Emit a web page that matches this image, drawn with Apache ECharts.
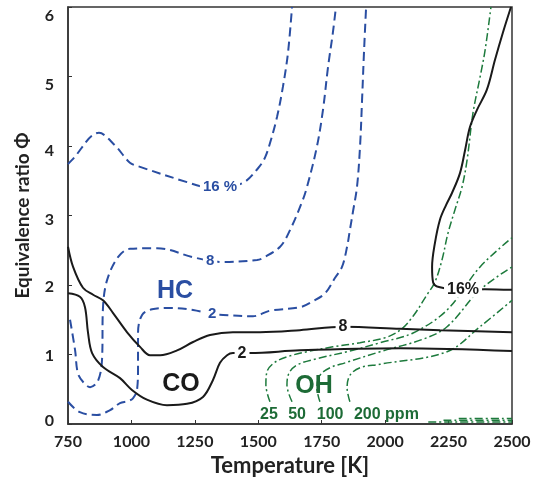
<!DOCTYPE html>
<html>
<head>
<meta charset="utf-8">
<script src="https://cdn.jsdelivr.net/npm/echarts@6/dist/echarts.min.js"></script>
<style>
  html, body { margin: 0; padding: 0; background: #fff; }
  #chart { width: 541px; height: 484px; }
</style>
</head>
<body>
<div id="chart"></div>
<script>
// Emission contour lines in the temperature / equivalence-ratio plane.
// Each contour is a list of [temperature K, equivalence ratio].

const xTicks = [750, 1000, 1250, 1500, 1750, 2000, 2250, 2500];
const yTicks = [0, 1, 2, 3, 4, 5, 6];

// HC contours (blue, dashed)
const hc16 = [[750,3.74],[766,3.80],[872,4.19],[935,4.01],[994,3.76],[1034,3.70],[1219,3.48],[1290,3.41],[1349,3.40],[1440,3.47],[1499,3.68],[1526,3.83],[1546,4.04],[1574,4.42],[1597,4.85],[1617,5.34],[1633,6.0]];
const hc8 = [[758,1.50],[778,1.06],[789,0.73],[813,0.59],[837,0.53],[868,0.62],[884,0.92],[888,1.68],[904,2.07],[947,2.40],[994,2.52],[1101,2.53],[1243,2.40],[1310,2.35],[1361,2.33],[1495,2.36],[1519,2.39],[1586,2.55],[1625,2.79],[1672,3.19],[1692,3.41],[1731,3.99],[1755,4.52],[1775,5.14],[1794,5.63],[1806,6.0]];
const hc2 = [[750,0.32],[797,0.17],[864,0.13],[916,0.20],[955,0.30],[986,0.33],[1006,0.37],[1022,0.49],[1026,0.82],[1026,1.31],[1042,1.57],[1081,1.65],[1152,1.67],[1243,1.64],[1318,1.58],[1361,1.57],[1479,1.55],[1546,1.63],[1664,1.68],[1712,1.76],[1763,1.88],[1802,2.10],[1830,2.26],[1850,2.55],[1861,2.79],[1873,3.05],[1889,3.41],[1901,3.99],[1909,4.66],[1917,5.38],[1925,6.0]];

// CO contours (black, solid)
const co16 = [[2500,1.93],[2393,1.94],[2307,1.93],[2212,1.97],[2189,2.04],[2185,2.26],[2196,2.60],[2216,2.94],[2240,3.15],[2263,3.32],[2295,3.61],[2315,3.94],[2334,4.27],[2362,4.52],[2401,4.81],[2433,5.24],[2464,5.63],[2496,6.0]];
const co8 = [[750,2.55],[770,2.26],[809,1.96],[849,1.86],[888,1.78],[927,1.60],[983,1.32],[1034,1.11],[1073,0.99],[1113,0.99],[1180,1.06],[1243,1.18],[1310,1.28],[1400,1.32],[1507,1.32],[1664,1.35],[1834,1.40],[2059,1.37],[2216,1.35],[2500,1.32]];
const co2 = [[750,1.88],[797,1.83],[817,1.68],[829,1.31],[845,1.02],[888,0.82],[955,0.66],[1002,0.49],[1061,0.35],[1140,0.27],[1219,0.29],[1282,0.39],[1321,0.63],[1349,0.88],[1377,0.99],[1400,1.02],[1436,1.02],[1467,1.02],[1664,1.06],[2059,1.09],[2500,1.05]];

// OH contours (green, dash-dot)
const oh25 = [[1546,0.32],[1530,0.56],[1534,0.75],[1566,0.89],[1625,0.98],[1692,1.04],[1794,1.11],[1901,1.17],[1999,1.24],[2059,1.35],[2110,1.55],[2165,1.86],[2196,2.04],[2224,2.36],[2248,2.75],[2275,3.08],[2303,3.41],[2323,3.80],[2346,4.47],[2374,4.99],[2394,5.38],[2417,6.0]];
const oh50 = [[1633,0.32],[1613,0.56],[1621,0.73],[1653,0.85],[1731,0.94],[1861,1.05],[1980,1.17],[2110,1.31],[2244,1.64],[2374,2.26],[2500,2.68]];
const oh100 = [[1743,0.32],[1731,0.52],[1743,0.70],[1783,0.81],[1842,0.88],[1980,1.04],[2149,1.22],[2244,1.40],[2374,1.93],[2500,2.26]];
const oh200 = [[1861,0.32],[1850,0.52],[1861,0.70],[1901,0.81],[1980,0.86],[2244,1.04],[2374,1.40],[2500,1.78]];
const ohLow1 = [[2170,0.03],[2500,0.03]];
const ohLow2 = [[2230,0.055],[2500,0.055]];
const ohLow3 = [[2290,0.08],[2500,0.08]];

// Text placed on the plot: [temperature, phi, text]
const hcLabels = [[1349,3.41,'16 %'],[1310,2.35,'8'],[1318,1.58,'2']];
const coLabels = [[1834,1.40,'8'],[1436,1.02,'2'],[2307,1.93,'16%']];
const groupLabels = [[1172,1.91,'HC'],[1195,0.58,'CO'],[1720,0.55,'OH']];
const ppmLabels = [[1542,0.14,'25'],[1653,0.14,'50'],[1783,0.14,'100'],[2005,0.14,'200 ppm']];

const BLUE = '#2a4ea2';
const BLACK = '#1a1a1a';
const GREEN = '#1d7a3c';
const GREEN_TXT = '#1d6b36';
const groupColors = [BLUE, BLACK, GREEN_TXT];

// vertical nudge (px) of the y tick labels
const yLabelShift = { 0: -3, 1: 1, 2: 2, 3: 4, 4: 5, 5: 8, 6: 9 };

function contour(data, color, type, width) {
  return {
    type: 'line', data: data, showSymbol: false, smooth: 0.35,
    lineStyle: { color: color, type: type, width: width },
    silent: true, z: 2
  };
}

function textSeries(data, colors, size, bg) {
  return {
    type: 'scatter', symbolSize: 0, silent: true, z: 5,
    itemStyle: { opacity: 1 },
    data: data.map((d, i) => ({
      value: d,
      label: { color: Array.isArray(colors) ? colors[i] : colors }
    })),
    label: {
      show: true, position: 'inside',
      formatter: p => p.value[2],
      fontSize: size, fontWeight: 'bold',
      fontFamily: '"Liberation Sans", Arial, sans-serif',
      backgroundColor: bg ? '#ffffff' : 'transparent',
      padding: bg ? [0, 3] : 0
    }
  };
}

const rich = {};
yTicks.forEach(v => {
  const s = yLabelShift[v];
  rich['y' + v] = { padding: s >= 0 ? [2 * s, 0, 0, 0] : [0, 0, -2 * s, 0] };
});

const chart = echarts.init(document.getElementById('chart'));
const axisFont = { fontFamily: 'Lato, "Open Sans", sans-serif', fontWeight: 'bold', color: '#222' };

chart.setOption({
  animation: false,
  grid: { left: 68, right: 29, top: 7, bottom: 60, show: true, borderColor: '#333', borderWidth: 1.5, backgroundColor: 'transparent' },
  xAxis: {
    type: 'value', min: 750, max: 2500, interval: 250,
    name: 'Temperature [K]', nameLocation: 'middle', nameGap: 30,
    nameTextStyle: Object.assign({ fontSize: 22 }, axisFont),
    axisLine: { show: true, lineStyle: { color: '#333', width: 1.5 } },
    axisTick: { show: true, inside: true, length: 4, lineStyle: { color: '#333' } },
    axisLabel: Object.assign({ fontSize: 16, margin: 10, formatter: v => xTicks.includes(v) ? String(v) : '' }, axisFont),
    splitLine: { show: false }
  },
  yAxis: {
    type: 'value', min: 0, max: 6, interval: 1,
    name: 'Equivalence ratio Φ', nameLocation: 'middle', nameGap: 36,
    nameTextStyle: Object.assign({ fontSize: 19 }, axisFont),
    axisLine: { show: true, lineStyle: { color: '#333', width: 1.5 } },
    axisTick: { show: true, inside: true, length: 4, lineStyle: { color: '#333' } },
    axisLabel: Object.assign({
      fontSize: 16, margin: 14,
      formatter: v => yTicks.includes(v) ? '{y' + v + '|' + v + '}' : '',
      rich: rich
    }, axisFont),
    splitLine: { show: false }
  },
  series: [
    contour(hc16, BLUE, [9, 5], 2),
    contour(hc8, BLUE, [9, 5], 2),
    contour(hc2, BLUE, [9, 5], 2),
    contour(oh25, GREEN, [8, 3, 2, 3], 1.5),
    contour(oh50, GREEN, [8, 3, 2, 3], 1.5),
    contour(oh100, GREEN, [8, 3, 2, 3], 1.5),
    contour(oh200, GREEN, [8, 3, 2, 3], 1.5),
    contour(ohLow1, GREEN, [8, 3, 2, 3], 1.5),
    contour(ohLow2, GREEN, [8, 3, 2, 3], 1.5),
    contour(ohLow3, GREEN, [8, 3, 2, 3], 1.5),
    contour(co16, BLACK, 'solid', 2),
    contour(co8, BLACK, 'solid', 2),
    contour(co2, BLACK, 'solid', 2),
    textSeries(hcLabels, BLUE, 15, true),
    textSeries(coLabels, BLACK, 16, true),
    textSeries(groupLabels, groupColors, 25, false),
    textSeries(ppmLabels, GREEN_TXT, 16, false)
  ]
});
</script>
</body>
</html>
